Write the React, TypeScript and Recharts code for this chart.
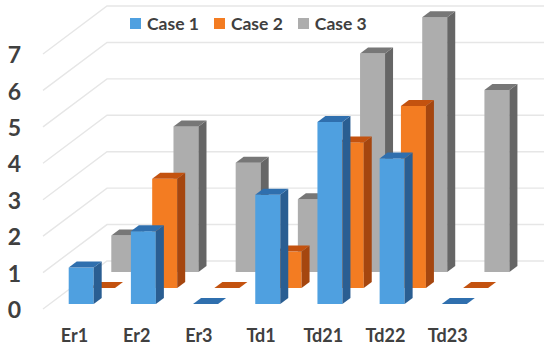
import { BarChart, Bar, XAxis, YAxis, CartesianGrid, Legend } from "recharts";

const categories = ["Er1", "Er2", "Er3", "Td1", "Td21", "Td22", "Td23"];
const case1 = [1, 2, 0, 3, 5, 4, 0];
const case2 = [0, 3, 0, 1, 4, 5, 0];
const case3 = [1, 4, 3, 2, 6, 7, 5];
const yTicks = [0, 1, 2, 3, 4, 5, 6, 7];

const data = categories.map((name, i) => ({
  name,
  "Case 1": case1[i],
  "Case 2": case2[i],
  "Case 3": case3[i],
}));

const FONT = "Lato, 'Open Sans', sans-serif";
const TEXT = "#404040";
const DEPTH_X = 8;
const DEPTH_Y = 6;

// front, side, top
const BLUE = ["#4fa0e0", "#2a5e92", "#2f6fae"];
const ORANGE = ["#f37c22", "#a5460f", "#c3520f"];
const GREY = ["#adadad", "#666666", "#777777"];

const legendItems = [
  { label: "Case 1", color: BLUE[0], gap: 15 },
  { label: "Case 2", color: ORANGE[0], gap: 15 },
  { label: "Case 3", color: GREY[0], gap: 0 },
];

// fake 3d column, same look as the office chart
function Column3D(props: any) {
  const { x, y, width, height, colors } = props;
  const r = x + width;
  const b = y + height;
  return (
    <g>
      {height > 0 && <rect x={x} y={y} width={width} height={height} fill={colors[0]} />}
      {height > 0 && (
        <path
          d={`M${r} ${y}L${r + DEPTH_X} ${y - DEPTH_Y}L${r + DEPTH_X} ${b - DEPTH_Y}L${r} ${b}Z`}
          fill={colors[1]}
        />
      )}
      <path
        d={`M${x} ${y}L${x + DEPTH_X} ${y - DEPTH_Y}L${r + DEPTH_X} ${y - DEPTH_Y}L${r} ${y}Z`}
        fill={colors[2]}
      />
    </g>
  );
}

function GridLine(props: any) {
  const { y1 } = props;
  return <path d={`M43 ${y1 + 48}L107 ${y1}L544 ${y1}`} fill="none" stroke="#e6e6e6" strokeWidth={1.4} />;
}

function LegendRow() {
  return (
    <div style={{ position: "absolute", left: 130, top: 13, display: "flex", alignItems: "center", fontFamily: FONT, fontWeight: 700, fontSize: 17.5, color: TEXT, whiteSpace: "nowrap" }}>
      {legendItems.map((it) => (
        <span key={it.label} style={{ display: "flex", alignItems: "center", marginRight: it.gap }}>
          <span style={{ width: 11, height: 11, background: it.color, marginRight: 6 }} />
          {it.label}
        </span>
      ))}
    </div>
  );
}

// nothing visible, only there so the label and grid axes have a series bound to them
const noMark = () => <g />;

export default function App() {
  return (
    <div style={{ position: "absolute", left: 0, top: 0, width: 550, height: 348, background: "#fff", overflow: "hidden" }}>
      <BarChart width={550} height={348} data={data} barSize={25} margin={{ top: 0, right: 10, bottom: 0, left: 0 }}>
        <XAxis xAxisId="c1" dataKey="name" hide height={0} padding={{ left: 9.7, right: 55 }} />
        <XAxis xAxisId="c2" dataKey="name" hide height={0} padding={{ left: 31, right: 33.7 }} />
        <XAxis xAxisId="c3" dataKey="name" hide height={0} padding={{ left: 52.3, right: 12.4 }} />
        <XAxis xAxisId="labels" dataKey="name" height={38} axisLine={false} tickLine={false} interval={0} padding={{ left: 3.4, right: 61.2 }} tick={{ fontFamily: FONT, fontWeight: 700, fontSize: 18, fill: TEXT }} tickMargin={13} />

        <YAxis yAxisId="grid" hide width={0} domain={[0, 7]} ticks={yTicks} interval={0} padding={{ top: 6, bottom: 49 }} />
        <YAxis yAxisId="c1" hide width={0} domain={[0, 7]} padding={{ top: 49.2, bottom: 6 }} />
        <YAxis yAxisId="c2" hide width={0} domain={[0, 7]} padding={{ top: 33.2, bottom: 22 }} />
        <YAxis yAxisId="c3" hide width={0} domain={[0, 7]} padding={{ top: 17.2, bottom: 38 }} />
        <YAxis yAxisId="labels" width={40} domain={[0, 7]} ticks={yTicks} interval={0} axisLine={false} tickLine={false} padding={{ top: 55, bottom: 0 }} tick={{ fontFamily: FONT, fontWeight: 700, fontSize: 23, fill: TEXT }} tickMargin={13} />

        <CartesianGrid xAxisId="labels" yAxisId="grid" vertical={false} syncWithTicks horizontal={(p: any) => <GridLine key={p.key ?? p.index} {...p} />} />
        <Legend content={() => <LegendRow />} wrapperStyle={{ position: "absolute", left: 0, top: 0, width: 0, height: 0 }} />

        <Bar dataKey="Case 3" xAxisId="labels" yAxisId="labels" isAnimationActive={false} shape={noMark} legendType="none" />
        <Bar dataKey="Case 3" xAxisId="labels" yAxisId="grid" isAnimationActive={false} shape={noMark} legendType="none" />

        {/* back to front so the near row covers the far ones */}
        <Bar dataKey="Case 3" xAxisId="c3" yAxisId="c3" isAnimationActive={false} shape={(p: any) => <Column3D {...p} colors={GREY} />} />
        <Bar dataKey="Case 2" xAxisId="c2" yAxisId="c2" isAnimationActive={false} shape={(p: any) => <Column3D {...p} colors={ORANGE} />} />
        <Bar dataKey="Case 1" xAxisId="c1" yAxisId="c1" isAnimationActive={false} shape={(p: any) => <Column3D {...p} colors={BLUE} />} />
      </BarChart>
    </div>
  );
}
